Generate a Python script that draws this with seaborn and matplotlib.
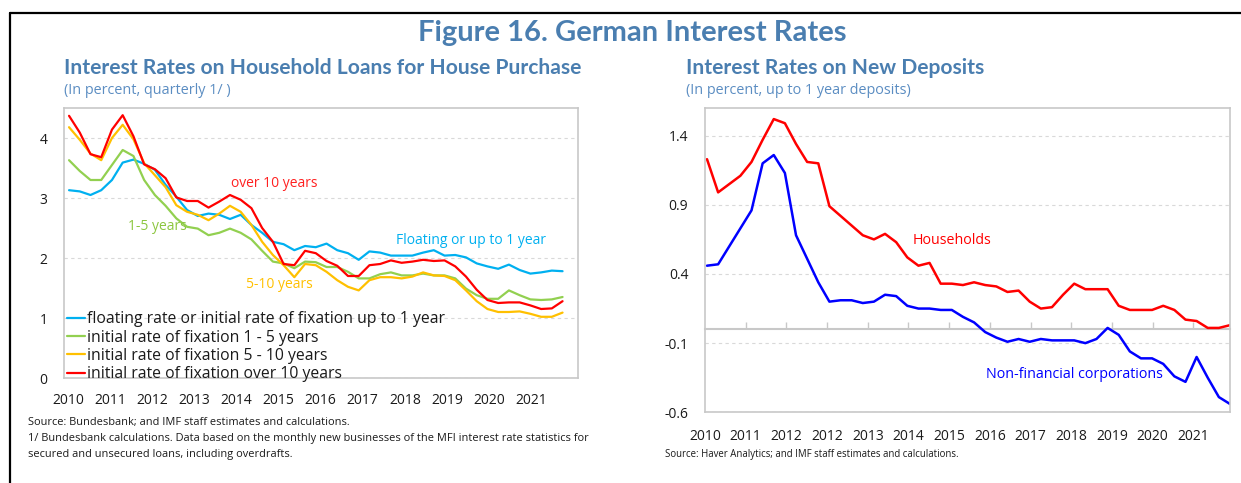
import numpy as np
import pandas as pd
import matplotlib
matplotlib.use("Agg")
import matplotlib.pyplot as plt
from matplotlib.lines import Line2D
import seaborn as sns

# ---- Household loans for house purchase, quarterly from 2010Q1 (percent) ----
floating_upto_1y = [3.13, 3.11, 3.05, 3.13, 3.30, 3.59, 3.64, 3.57, 3.47, 3.22,
                    3.02, 2.80, 2.70, 2.74, 2.72, 2.65, 2.72, 2.55, 2.42, 2.27,
                    2.23, 2.13, 2.20, 2.18, 2.24, 2.13, 2.08, 1.97, 2.11, 2.09,
                    2.04, 2.04, 2.04, 2.09, 2.13, 2.04, 2.05, 2.01, 1.91, 1.86,
                    1.82, 1.89, 1.80, 1.74, 1.76, 1.79, 1.78]
fixation_1_5y = [3.63, 3.45, 3.30, 3.30, 3.55, 3.80, 3.70, 3.30, 3.05, 2.87,
                 2.66, 2.52, 2.49, 2.38, 2.42, 2.49, 2.42, 2.31, 2.12, 1.94,
                 1.91, 1.83, 1.94, 1.93, 1.85, 1.85, 1.77, 1.66, 1.66, 1.73,
                 1.76, 1.71, 1.71, 1.74, 1.71, 1.71, 1.66, 1.49, 1.38, 1.32,
                 1.32, 1.46, 1.38, 1.31, 1.30, 1.31, 1.35]
fixation_5_10y = [4.18, 3.97, 3.74, 3.63, 4.00, 4.22, 3.98, 3.58, 3.38, 3.18,
                  2.88, 2.77, 2.72, 2.63, 2.74, 2.87, 2.77, 2.55, 2.27, 2.05,
                  1.88, 1.68, 1.90, 1.88, 1.77, 1.63, 1.52, 1.46, 1.63, 1.68,
                  1.68, 1.66, 1.69, 1.76, 1.71, 1.70, 1.63, 1.46, 1.28, 1.15,
                  1.10, 1.10, 1.11, 1.07, 1.02, 1.02, 1.09]
fixation_over_10y = [4.37, 4.09, 3.73, 3.68, 4.14, 4.38, 4.03, 3.56, 3.48, 3.33,
                     3.01, 2.95, 2.95, 2.84, 2.94, 3.05, 2.97, 2.83, 2.50, 2.27,
                     1.90, 1.88, 2.12, 2.08, 1.95, 1.87, 1.70, 1.70, 1.88, 1.90,
                     1.96, 1.92, 1.94, 1.97, 1.95, 1.96, 1.86, 1.69, 1.47, 1.30,
                     1.25, 1.26, 1.26, 1.21, 1.15, 1.16, 1.28]
loan_series = ["floating rate or initial rate of fixation up to 1 year",
               "initial rate of fixation 1 - 5 years",
               "initial rate of fixation 5 - 10 years",
               "initial rate of fixation over 10 years"]
loan_years = ["2010", "2011", "2012", "2013", "2014", "2015",
              "2016", "2017", "2018", "2019", "2020", "2021"]

# ---- Interest rates on new deposits, up to 1 year (percent) ----
households = [1.23, 0.99, 1.05, 1.11, 1.21, 1.37, 1.52, 1.49, 1.34, 1.21,
              1.20, 0.89, 0.82, 0.75, 0.68, 0.65, 0.69, 0.63, 0.52, 0.46,
              0.48, 0.33, 0.33, 0.32, 0.34, 0.32, 0.31, 0.27, 0.28, 0.20,
              0.15, 0.16, 0.25, 0.33, 0.29, 0.29, 0.29, 0.17, 0.14, 0.14,
              0.14, 0.17, 0.14, 0.07, 0.06, 0.01, 0.01, 0.03]
nonfin_corps = [0.46, 0.47, 0.60, 0.73, 0.86, 1.20, 1.26, 1.13, 0.68, 0.51,
                0.34, 0.20, 0.21, 0.21, 0.19, 0.20, 0.25, 0.24, 0.17, 0.15,
                0.15, 0.14, 0.14, 0.09, 0.05, -0.02, -0.06, -0.09, -0.07, -0.09,
                -0.07, -0.08, -0.08, -0.08, -0.10, -0.07, 0.01, -0.04, -0.16, -0.21,
                -0.21, -0.25, -0.34, -0.38, -0.20, -0.35, -0.49, -0.54]
deposit_years = ["2010", "2011", "2012", "2012", "2013", "2014", "2015",
                 "2016", "2017", "2018", "2019", "2020", "2021"]

# ---- styling ----
sns.set_theme(style="white")
plt.rcParams["font.family"] = ["Open Sans", "DejaVu Sans"]
W, H = 1241, 483
TITLE_BLUE = "#4a7eb0"
SUB_BLUE = "#5b8dc2"
FRAME = "#c8c8c8"
GRID = "#d9d9d9"
TEXT = "#1a1a1a"
loan_colors = ["#00b0f0", "#92d050", "#ffc000", "#ff0000"]

fig = plt.figure(figsize=(W / 100, H / 100), dpi=100)
fig.patch.set_facecolor("white")

# ---------------- left panel ----------------
ax1 = fig.add_axes([64 / W, 1 - 378 / H, 514 / W, 270 / H])
loan_df = pd.concat([
    pd.DataFrame({"q": np.arange(len(v)), "rate": v, "series": name})
    for name, v in zip(loan_series, [floating_upto_1y, fixation_1_5y,
                                     fixation_5_10y, fixation_over_10y])
])
sns.lineplot(data=loan_df, x="q", y="rate", hue="series", hue_order=loan_series,
             palette=loan_colors, linewidth=1.6, ax=ax1, legend=False, sort=False)

ax1.set_ylim(0, 4.5)
ax1.set_yticks([0, 1, 2, 3, 4])
ax1.set_yticklabels(["0", "1", "2", "3", "4"])
q_step = 3.924
ax1.set_xlim(-0.47, 47.44)
ax1.set_xticks([k * q_step - 0.09 for k in range(len(loan_years))])
ax1.set_xticklabels(loan_years)
ax1.set_xlabel("")
ax1.set_ylabel("")
ax1.yaxis.grid(True, color=GRID, linestyle=(0, (3, 3)), linewidth=0.8)
ax1.xaxis.grid(False)
for s in ax1.spines.values():
    s.set_color(FRAME)
    s.set_linewidth(1.2)
ax1.tick_params(axis="both", length=0, labelsize=10, colors=TEXT)
ax1.tick_params(axis="y", pad=12)
ax1.tick_params(axis="x", pad=11)

handles = [Line2D([0], [0], color=c, linewidth=1.6) for c in loan_colors]
leg = ax1.legend(handles, loan_series, loc="lower left", frameon=False,
                 bbox_to_anchor=(0.006, -0.016), fontsize=11.3,
                 handlelength=1.15, handletextpad=0.13, labelspacing=0.15,
                 borderaxespad=0.0, borderpad=0.0)
for t in leg.get_texts():
    t.set_color(TEXT)

lbl_kw = dict(fontsize=10, ha="center", va="center")
ax1.text(19.1, 3.25, "over 10 years", color="#ff2020", **lbl_kw)
ax1.text(8.2, 2.53, "1-5 years", color="#8cc63f", **lbl_kw)
ax1.text(19.6, 1.55, "5-10 years", color="#ffc000", **lbl_kw)
ax1.text(37.5, 2.29, "Floating or up to 1 year", color="#00b0f0", **lbl_kw)

# ---------------- right panel ----------------
ax2 = fig.add_axes([705 / W, 1 - 412.3 / H, 525 / W, 304.3 / H])
dep_df = pd.concat([
    pd.DataFrame({"q": np.arange(len(households)), "rate": households, "series": "Households"}),
    pd.DataFrame({"q": np.arange(len(nonfin_corps)), "rate": nonfin_corps,
                  "series": "Non-financial corporations"}),
])
sns.lineplot(data=dep_df, x="q", y="rate", hue="series",
             palette=["#ff0000", "#0000ff"], linewidth=1.8, ax=ax2,
             legend=False, sort=False)

ax2.set_ylim(-0.6, 1.6)
dep_ticks = [-0.6, -0.1, 0.4, 0.9, 1.4]
ax2.set_yticks(dep_ticks)
ax2.set_yticklabels([f"{v:.1f}" for v in dep_ticks])
d_step = 3.657
ax2.set_xlim(-0.18, 47.0)
dep_tick_pos = [k * d_step - 0.18 for k in range(len(deposit_years))]
ax2.set_xticks(dep_tick_pos)
ax2.set_xticklabels(deposit_years)
ax2.set_xlabel("")
ax2.set_ylabel("")
ax2.yaxis.grid(True, color=GRID, linestyle=(0, (3, 3)), linewidth=0.8)
ax2.xaxis.grid(False)
for s in ax2.spines.values():
    s.set_color(FRAME)
    s.set_linewidth(1.2)
ax2.tick_params(axis="both", length=0, labelsize=10, colors=TEXT)
ax2.tick_params(axis="y", pad=12)
ax2.tick_params(axis="x", pad=12)

# horizontal zero axis with upward tick marks
zero_ax = ax2.secondary_xaxis(0, transform=ax2.transData)
zero_ax.set_xticks(dep_tick_pos[1:])
zero_ax.tick_params(axis="x", direction="in", length=5, width=1, color=FRAME,
                    labelbottom=False, labeltop=False)
for s in zero_ax.spines.values():
    s.set_color(FRAME)
    s.set_linewidth(1.5)

dep_lbl_kw = dict(fontsize=10.3, ha="center", va="center")
ax2.text(22.0, 0.64, "Households", color="#ff0000", **dep_lbl_kw)
ax2.text(33.0, -0.33, "Non-financial corporations", color="#0000ff", **dep_lbl_kw)

# ---------------- titles and notes ----------------
fig.text(632 / W, 1 - 33 / H, "Figure 16. German Interest Rates", ha="center",
         va="center", fontsize=21, fontweight="bold", color=TITLE_BLUE,
         family=["Lato", "DejaVu Sans"])
fig.text(64 / W, 1 - 68 / H, "Interest Rates on Household Loans for House Purchase",
         ha="left", va="center", fontsize=15.1, fontweight="bold", color=TITLE_BLUE,
         family=["Lato", "DejaVu Sans"])
fig.text(64 / W, 1 - 90 / H, "(In percent, quarterly 1/ )", ha="left", va="center",
         fontsize=10.4, color=SUB_BLUE)
fig.text(686 / W, 1 - 68 / H, "Interest Rates on New Deposits", ha="left",
         va="center", fontsize=15.1, fontweight="bold", color=TITLE_BLUE,
         family=["Lato", "DejaVu Sans"])
fig.text(686 / W, 1 - 90 / H, "(In percent, up to 1 year deposits)", ha="left",
         va="center", fontsize=10.4, color=SUB_BLUE)

note_kw = dict(ha="left", va="center", fontsize=7.9, color=TEXT)
fig.text(28 / W, 1 - 423 / H,
         "Source: Bundesbank; and IMF staff estimates and calculations.", **note_kw)
fig.text(28 / W, 1 - 439 / H,
         "1/ Bundesbank calculations. Data based on the monthly new businesses of the MFI "
         "interest rate statistics for", **note_kw)
fig.text(28 / W, 1 - 454 / H,
         "secured and unsecured loans, including overdrafts.", **note_kw)
fig.text(665 / W, 1 - 455 / H,
         "Source: Haver Analytics; and IMF staff estimates and calculations.",
         ha="left", va="center", fontsize=6.9, color=TEXT)

# outer frame (top and left edges)
fig.add_artist(Line2D([10 / W, 1.0], [1 - 13 / H, 1 - 13 / H], color="black",
                      linewidth=1.6, transform=fig.transFigure))
fig.add_artist(Line2D([10 / W, 10 / W], [0.0, 1 - 13 / H], color="black",
                      linewidth=1.6, transform=fig.transFigure))

fig.savefig("out.png", dpi=100, facecolor="white")
